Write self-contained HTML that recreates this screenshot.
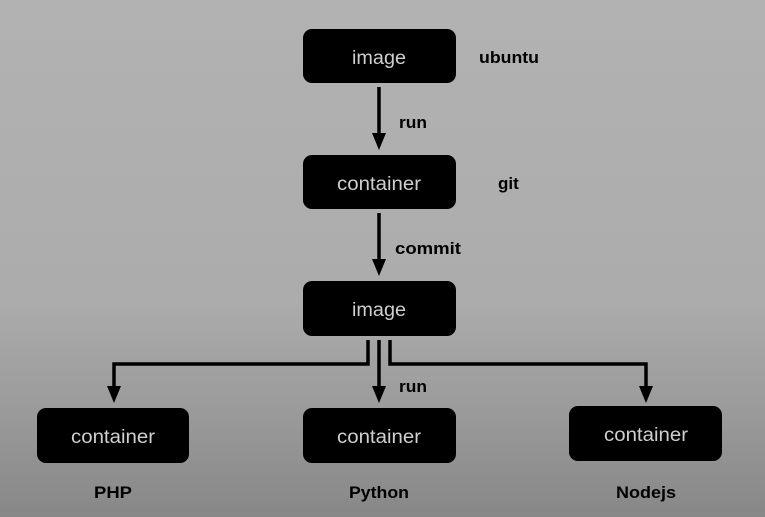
<!DOCTYPE html>
<html><head><style>
html,body{margin:0;padding:0}
body{width:765px;height:517px;overflow:hidden;background:linear-gradient(to bottom,#b2b2b2 0px,#acacac 300px,#999 420px,#878787 517px);font-family:"Liberation Sans",sans-serif}
</style></head><body>
<svg width="765" height="517" xmlns="http://www.w3.org/2000/svg" style="position:absolute;left:0;top:0">
<g fill="#000">
<rect x="303" y="29" width="153" height="54" rx="9"/>
<rect x="303" y="155" width="153" height="54" rx="9"/>
<rect x="303" y="281" width="153" height="55" rx="9"/>
<rect x="37" y="408" width="152" height="55" rx="9"/>
<rect x="303" y="408" width="153" height="55" rx="9"/>
<rect x="569" y="406" width="153" height="55" rx="9"/>
</g>
<g fill="#cfcfcf" font-size="19" text-anchor="middle" font-family="Liberation Sans, sans-serif">
<text x="379" y="64" textLength="54" lengthAdjust="spacingAndGlyphs">image</text>
<text x="379" y="190" textLength="84" lengthAdjust="spacingAndGlyphs">container</text>
<text x="379" y="316" textLength="54" lengthAdjust="spacingAndGlyphs">image</text>
<text x="113" y="443" textLength="84" lengthAdjust="spacingAndGlyphs">container</text>
<text x="379" y="443" textLength="84" lengthAdjust="spacingAndGlyphs">container</text>
<text x="646" y="441" textLength="84" lengthAdjust="spacingAndGlyphs">container</text>
</g>
<g fill="#000" font-size="17" font-weight="bold" font-family="Liberation Sans, sans-serif">
<text x="479" y="63" textLength="60" lengthAdjust="spacingAndGlyphs">ubuntu</text>
<text x="498" y="189">git</text>
<text x="399" y="128" textLength="28" lengthAdjust="spacingAndGlyphs">run</text>
<text x="395" y="254" textLength="66" lengthAdjust="spacingAndGlyphs">commit</text>
<text x="399" y="392" textLength="28" lengthAdjust="spacingAndGlyphs">run</text>
<text x="113" y="498" text-anchor="middle" textLength="38" lengthAdjust="spacingAndGlyphs">PHP</text>
<text x="379" y="498" text-anchor="middle" textLength="60" lengthAdjust="spacingAndGlyphs">Python</text>
<text x="646" y="498" text-anchor="middle" textLength="60" lengthAdjust="spacingAndGlyphs">Nodejs</text>
</g>
<g stroke="#000" stroke-width="3.5" fill="none">
<line x1="379" y1="87" x2="379" y2="135"/>
<line x1="379" y1="213" x2="379" y2="261"/>
<line x1="379" y1="340" x2="379" y2="388"/>
<polyline points="368,340 368,364 114,364 114,388"/>
<polyline points="390,340 390,364 646,364 646,388"/>
</g>
<g fill="#000">
<polygon points="372,133 386,133 379,150"/>
<polygon points="372,259 386,259 379,276"/>
<polygon points="372,386 386,386 379,403"/>
<polygon points="107,386 121,386 114,403"/>
<polygon points="639,386 653,386 646,403"/>
</g>
</svg>
</body></html>
